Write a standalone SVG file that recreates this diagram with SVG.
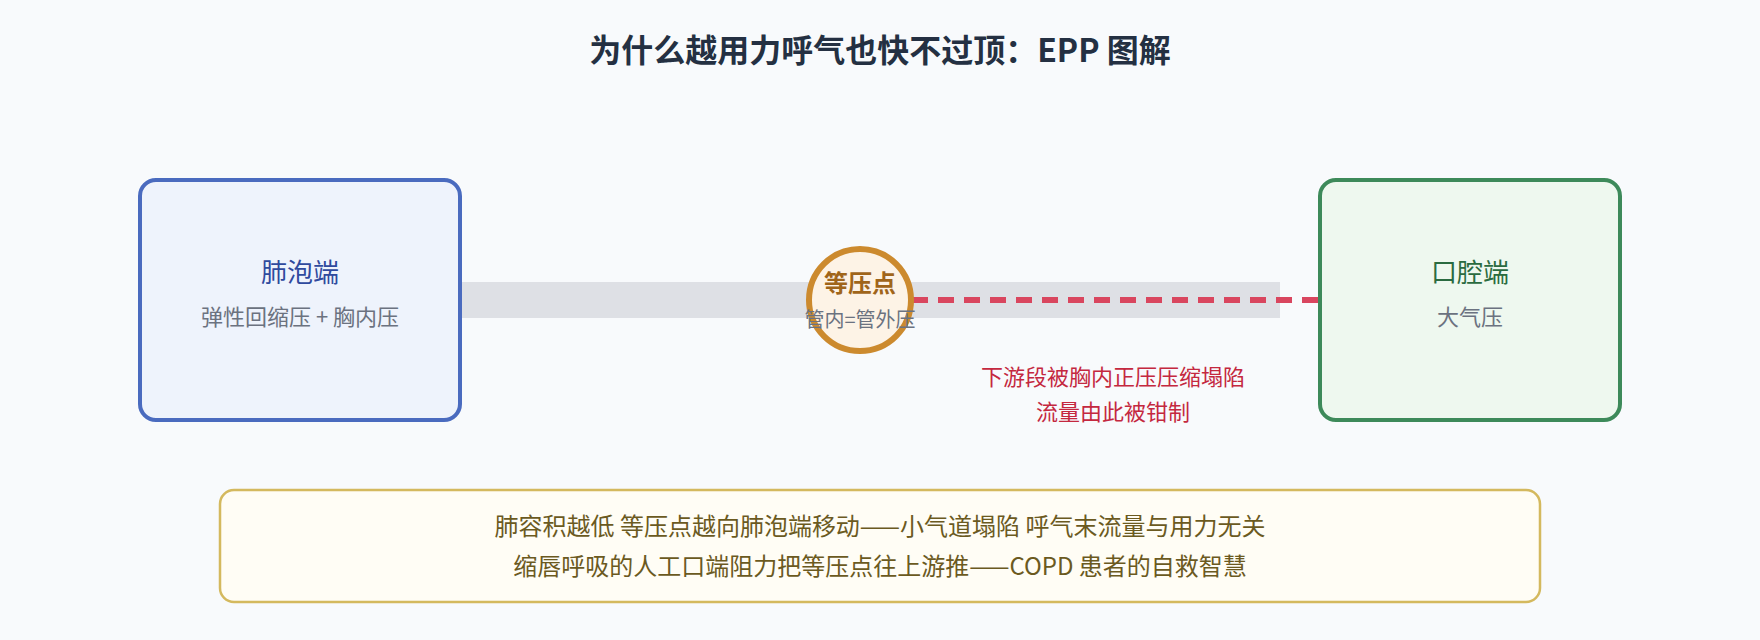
<svg xmlns="http://www.w3.org/2000/svg" width="1760" height="640" viewBox="0 0 1760 640">
<style>
text{font-family:"Noto Sans CJK SC","Noto Sans",sans-serif;text-anchor:middle}
.title{font-size:32px;font-weight:700;fill:#243042}
.nt{font-size:26px}
.sub{font-size:22px;fill:#6b7280}
.red{font-size:22px;fill:#c4283f}
.note{font-size:24px;fill:#6b5a1f}
</style>
<rect x="0" y="0" width="1760" height="640" fill="#f8fafc"/>
<text class="title" x="880" y="62">为什么越用力呼气也快不过顶：EPP 图解</text>
<g id="connectors">
<rect x="460" y="282" width="820" height="36" fill="#dee0e5"/>
<line x1="912" y1="300" x2="1318" y2="300" stroke="#d9465f" stroke-width="6" stroke-dasharray="16 10"/>
</g>
<g id="alveolar">
<rect x="140" y="180" width="320" height="240" rx="16" fill="#eef3fc" stroke="#4a6bbf" stroke-width="4"/>
<text class="nt" x="300" y="282" fill="#2f4a9e">肺泡端</text>
<text class="sub" x="300" y="325">弹性回缩压 + 胸内压</text>
</g>
<g id="mouth">
<rect x="1320" y="180" width="300" height="240" rx="16" fill="#eef8ef" stroke="#3d8a5a" stroke-width="4"/>
<text class="nt" x="1470" y="282" fill="#2a6b40">口腔端</text>
<text class="sub" x="1470" y="325">大气压</text>
</g>
<g id="epp">
<circle cx="860" cy="300" r="51" fill="#fdf3e6" stroke="#cc8a2e" stroke-width="6"/>
<text x="860" y="292" font-size="24" font-weight="700" fill="#a0651a">等压点</text>
<text x="860" y="327" font-size="20" fill="#6b7280">管内=管外压</text>
</g>
<g id="collapse-label">
<text class="red" x="1113" y="385">下游段被胸内正压压缩塌陷</text>
<text class="red" x="1113" y="420">流量由此被钳制</text>
</g>
<g id="note">
<rect x="220" y="490" width="1320" height="112" rx="14" fill="#fffdf5" stroke="#d4b95e" stroke-width="2.5"/>
<text class="note" x="880" y="535">肺容积越低 等压点越向肺泡端移动——小气道塌陷 呼气末流量与用力无关</text>
<text class="note" x="880" y="575">缩唇呼吸的人工口端阻力把等压点往上游推——COPD 患者的自救智慧</text>
</g>
</svg>
